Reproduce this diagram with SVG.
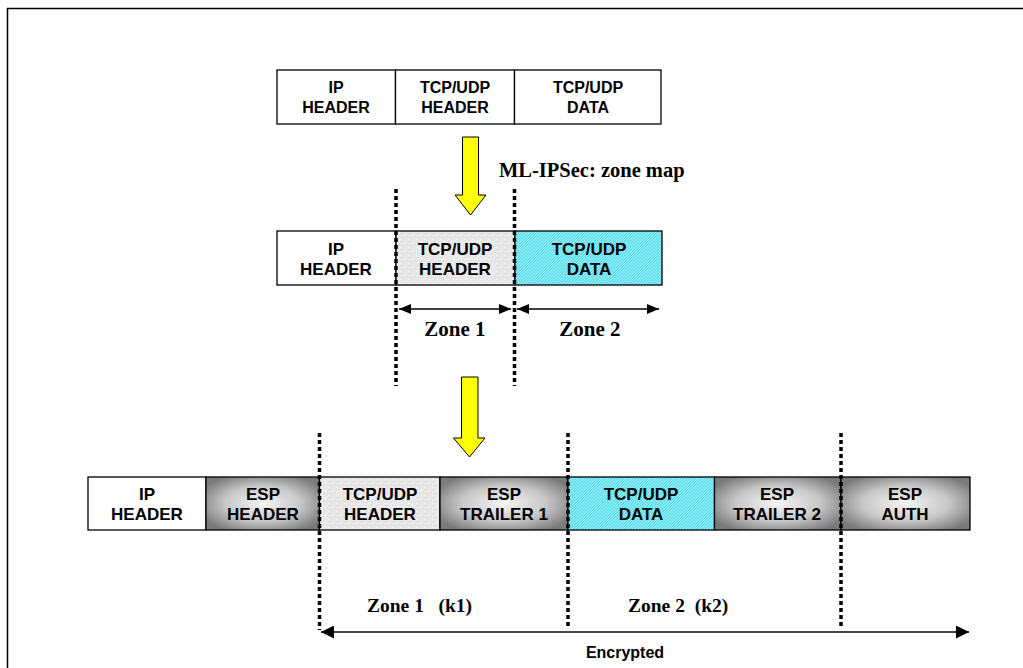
<svg xmlns="http://www.w3.org/2000/svg" width="1023" height="668" viewBox="0 0 1023 668">
<defs>
<style>
.cell{stroke:#000;stroke-width:1.3}
.lbl{font-family:"Liberation Sans",Arial,sans-serif;font-weight:bold;text-anchor:middle;fill:#000}
.zone{font-family:"Liberation Serif","Times New Roman",serif;font-weight:bold;fill:#000}
.dot{stroke:#000;stroke-width:3.5;stroke-dasharray:4 3;fill:none}
.yarrow{fill:#ffff00;stroke:#000;stroke-width:1}
</style>
<radialGradient id="esp" cx="0.5" cy="0.5" r="0.6">
<stop offset="0" stop-color="#f4f4f4"/>
<stop offset="0.55" stop-color="#c8c8c8"/>
<stop offset="1" stop-color="#7a7a7a"/>
</radialGradient>
<pattern id="noise" width="8" height="8" patternUnits="userSpaceOnUse">
<rect width="8" height="8" fill="#e9e9e9"/>
<rect x="1" y="1" width="1" height="1" fill="#d4d4d4"/>
<rect x="5" y="2" width="1" height="1" fill="#f7f7f7"/>
<rect x="3" y="5" width="1" height="1" fill="#d0d0d0"/>
<rect x="6" y="6" width="1" height="1" fill="#dadada"/>
<rect x="2" y="3" width="1" height="1" fill="#fafafa"/>
<rect x="7" y="4" width="1" height="1" fill="#d8d8d8"/>
<rect x="0" y="7" width="1" height="1" fill="#f5f5f5"/>
</pattern>
<pattern id="hatch" width="3" height="3" patternUnits="userSpaceOnUse">
<rect width="3" height="3" fill="#5fe0ee"/>
<path d="M0,3 L3,0" stroke="#b8f4fa" stroke-width="0.8"/>
</pattern>
<marker id="ah" viewBox="0 0 12 10" refX="12" refY="5" markerWidth="12" markerHeight="10" markerUnits="userSpaceOnUse" orient="auto-start-reverse">
<path d="M0,0 L12,5 L0,10 z" fill="#000"/>
</marker>
<marker id="ah2" viewBox="0 0 13 13" refX="13" refY="6.5" markerWidth="13" markerHeight="13" markerUnits="userSpaceOnUse" orient="auto-start-reverse">
<path d="M0,0 L13,6.5 L0,13 z" fill="#000"/>
</marker>
</defs>
<rect width="1023" height="668" fill="#fff"/>
<rect x="7.5" y="8.5" width="1030" height="680" fill="none" stroke="#000" stroke-width="1.5"/>

<g id="packet-original">
<rect class="cell" x="277" y="70" width="118.5" height="54" fill="#fff"/>
<rect class="cell" x="395.5" y="70" width="119" height="54" fill="#fff"/>
<rect class="cell" x="514.5" y="70" width="146.5" height="54" fill="#fff"/>
<text class="lbl" font-size="16"><tspan x="336" y="93">IP</tspan><tspan x="336" y="113">HEADER</tspan></text>
<text class="lbl" font-size="16"><tspan x="455" y="93">TCP/UDP</tspan><tspan x="455" y="113">HEADER</tspan></text>
<text class="lbl" font-size="16"><tspan x="588" y="93">TCP/UDP</tspan><tspan x="588" y="113">DATA</tspan></text>
</g>

<g id="arrow-zonemap">
<path class="yarrow" d="M462.5,137 H478.5 V195 H486 L470.5,215 L455,195 H462.5 Z"/>
<text class="zone" x="499" y="177" font-size="20.5">ML-IPSec: zone map</text>
</g>

<g id="packet-zoned">
<rect class="cell" x="277" y="231" width="119" height="54" fill="#fff"/>
<rect class="cell" x="396" y="231" width="119" height="54" fill="url(#noise)"/>
<rect class="cell" x="515" y="231" width="147" height="54" fill="url(#hatch)"/>
<text class="lbl" font-size="17"><tspan x="336" y="255">IP</tspan><tspan x="336" y="275">HEADER</tspan></text>
<text class="lbl" font-size="17"><tspan x="455" y="255">TCP/UDP</tspan><tspan x="455" y="275">HEADER</tspan></text>
<text class="lbl" font-size="17"><tspan x="589" y="255">TCP/UDP</tspan><tspan x="589" y="275">DATA</tspan></text>
</g>

<g id="zone-labels">
<text class="zone" x="455" y="336" font-size="21" text-anchor="middle">Zone 1</text>
<text class="zone" x="590" y="336" font-size="21" text-anchor="middle">Zone 2</text>
</g>

<g id="arrow-esp">
<path class="yarrow" d="M461.5,377 H478 V438 H485 L469.5,457 L453.5,438 H461.5 Z"/>
</g>

<g id="packet-esp">
<rect class="cell" x="88" y="477" width="118" height="53" fill="#fff"/>
<rect class="cell" x="206" y="477" width="113.5" height="53" fill="url(#esp)"/>
<rect class="cell" x="319.5" y="477" width="120.5" height="53" fill="url(#noise)"/>
<rect class="cell" x="440" y="477" width="128" height="53" fill="url(#esp)"/>
<rect class="cell" x="568" y="477" width="146.5" height="53" fill="url(#hatch)"/>
<rect class="cell" x="714.5" y="477" width="126.5" height="53" fill="url(#esp)"/>
<rect class="cell" x="841" y="477" width="129" height="53" fill="url(#esp)"/>
<text class="lbl" font-size="17"><tspan x="147" y="500">IP</tspan><tspan x="147" y="520">HEADER</tspan></text>
<text class="lbl" font-size="17"><tspan x="263" y="500">ESP</tspan><tspan x="263" y="520">HEADER</tspan></text>
<text class="lbl" font-size="17"><tspan x="380" y="500">TCP/UDP</tspan><tspan x="380" y="520">HEADER</tspan></text>
<text class="lbl" font-size="17"><tspan x="504" y="500">ESP</tspan><tspan x="504" y="520">TRAILER 1</tspan></text>
<text class="lbl" font-size="17"><tspan x="641" y="500">TCP/UDP</tspan><tspan x="641" y="520">DATA</tspan></text>
<text class="lbl" font-size="17"><tspan x="777" y="500">ESP</tspan><tspan x="777" y="520">TRAILER 2</tspan></text>
<text class="lbl" font-size="17"><tspan x="905" y="500">ESP</tspan><tspan x="905" y="520">AUTH</tspan></text>
</g>

<g id="bottom-labels">
<text class="zone" x="367" y="612" font-size="19.5" xml:space="preserve">Zone 1   (k1)</text>
<text class="zone" x="628" y="612" font-size="19.5" xml:space="preserve">Zone 2  (k2)</text>
<text class="lbl" x="625" y="658" font-size="16">Encrypted</text>
</g>

<g id="connectors">
<line class="dot" x1="396" y1="189" x2="396" y2="386"/>
<line class="dot" x1="514.5" y1="189" x2="514.5" y2="386"/>
<line x1="399" y1="309" x2="511" y2="309" stroke="#000" stroke-width="1.5" marker-start="url(#ah)" marker-end="url(#ah)"/>
<line x1="517" y1="309" x2="659" y2="309" stroke="#000" stroke-width="1.5" marker-start="url(#ah)" marker-end="url(#ah)"/>
<line class="dot" x1="319.5" y1="433" x2="319.5" y2="630"/>
<line class="dot" x1="568" y1="433" x2="568" y2="626"/>
<line class="dot" x1="841" y1="433" x2="841" y2="626"/>
<line x1="321" y1="632" x2="969" y2="632" stroke="#444" stroke-width="2" marker-start="url(#ah2)" marker-end="url(#ah2)"/>
</g>
</svg>
